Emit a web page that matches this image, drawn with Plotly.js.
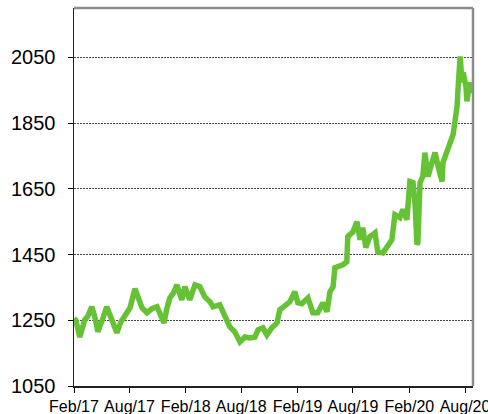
<!DOCTYPE html>
<html>
<head>
<meta charset="utf-8">
<script src="https://cdn.plot.ly/plotly-3.0.1.min.js"></script>
<style>
    body { margin: 0; padding: 0; background: #ffffff; }
    #graph { width: 488px; height: 414px; }
</style>
</head>
<body>
<div id="graph"></div>
<script>
// gold price
let dates = [
    "2017-02-01", "2017-02-07", "2017-02-20", "2017-03-08", "2017-03-18", "2017-03-31",
    "2017-04-10", "2017-04-20", "2017-05-06", "2017-05-19", "2017-06-05", "2017-06-21",
    "2017-07-04", "2017-07-17", "2017-08-03", "2017-08-19", "2017-08-29", "2017-09-11",
    "2017-09-27", "2017-10-13", "2017-10-30", "2017-11-09", "2017-11-22", "2017-12-01",
    "2017-12-11", "2017-12-24", "2018-01-03", "2018-01-19", "2018-01-29", "2018-02-14",
    "2018-02-24", "2018-03-03", "2018-03-19", "2018-04-04", "2018-04-21", "2018-05-01",
    "2018-05-23", "2018-06-09", "2018-06-25", "2018-07-11", "2018-07-28", "2018-08-13",
    "2018-08-29", "2018-09-15", "2018-09-25", "2018-10-11", "2018-10-24", "2018-11-09",
    "2018-11-26", "2018-12-05", "2018-12-22", "2019-01-07", "2019-01-23", "2019-02-02",
    "2019-02-15", "2019-02-25", "2019-03-07", "2019-03-23", "2019-04-08", "2019-04-25",
    "2019-05-08", "2019-05-18", "2019-05-28", "2019-06-03", "2019-06-13", "2019-06-29",
    "2019-07-12", "2019-07-15", "2019-08-01", "2019-08-14", "2019-08-24", "2019-09-02",
    "2019-09-12", "2019-09-25", "2019-10-12", "2019-10-21", "2019-11-07", "2019-11-23",
    "2019-12-06", "2019-12-16", "2020-01-01", "2020-01-11", "2020-01-24", "2020-02-03",
    "2020-02-13", "2020-02-20", "2020-02-26", "2020-02-29", "2020-03-07", "2020-03-16",
    "2020-03-23", "2020-04-02", "2020-04-15", "2020-04-25", "2020-05-05", "2020-05-18",
    "2020-05-21", "2020-06-03", "2020-06-13", "2020-06-23", "2020-06-30", "2020-07-06",
    "2020-07-09", "2020-07-16", "2020-07-22", "2020-07-26", "2020-08-04", "2020-08-07",
    "2020-08-17", "2020-08-21", "2020-08-26"
];
let prices = [
    1255, 1250, 1199, 1251, 1262, 1291,
    1260, 1215, 1255, 1291, 1250, 1212,
    1245, 1266, 1288, 1346, 1315, 1288,
    1273, 1285, 1291, 1270, 1242, 1285,
    1318, 1335, 1358, 1312, 1352, 1312,
    1345, 1358, 1352, 1321, 1306, 1291,
    1297, 1257, 1230, 1215, 1184, 1199,
    1196, 1199, 1221, 1227, 1205, 1227,
    1242, 1282, 1297, 1306, 1337, 1303,
    1300, 1312, 1318, 1273, 1273, 1303,
    1276, 1337, 1352, 1410, 1413, 1419,
    1428, 1504, 1519, 1550, 1495, 1532,
    1471, 1504, 1516, 1458, 1455, 1474,
    1495, 1571, 1562, 1587, 1556, 1672,
    1669, 1600, 1480, 1486, 1669, 1687,
    1760, 1687, 1730, 1760, 1718, 1672,
    1730, 1763, 1800, 1815, 1861, 1901,
    1953, 2053, 1974, 2004, 1962, 1916,
    1974, 1943, 1959
];

let tick_dates = ["2017-02-01", "2017-08-01", "2018-02-01", "2018-08-01",
                  "2019-02-01", "2019-08-01", "2020-02-01", "2020-08-01"];
let tick_labels = ["Feb/17", "Aug/17", "Feb/18", "Aug/18",
                   "Feb/19", "Aug/19", "Feb/20", "Aug/20"];

let chart_title = "図1 金価格の推移";

function draw() {
    let graph = document.getElementById("graph");
    Plotly.newPlot(
        graph,
        [
            {
                x: dates,
                y: prices,
                type: "scatter",
                mode: "lines",
                line: { color: "#66c235", width: 5.5 },
                hoverinfo: "skip",
            },
        ],
        {
            width: 488,
            height: 414,
            margin: { l: 74, r: 15, t: 8, b: 28 },
            paper_bgcolor: "#ffffff",
            plot_bgcolor: "#ffffff",
            showlegend: false,
            font: { family: "Liberation Sans", color: "#000000" },
            xaxis: {
                type: "date",
                range: ["2017-02-01", "2020-08-27"],
                tickvals: tick_dates,
                ticktext: tick_labels,
                ticks: "outside",
                ticklen: 5,
                tickcolor: "#000000",
                tickfont: { size: 16 },
                ticklabeloverflow: "allow",
                showgrid: false,
                showline: true,
                linecolor: "#222222",
                linewidth: 1.5,
                zeroline: false,
            },
            yaxis: {
                range: [1050, 2200],
                tick0: 1050,
                dtick: 200,
                ticks: "outside",
                ticklen: 5,
                tickcolor: "#000000",
                tickfont: { size: 20 },
                ticklabelstandoff: 8,
                showgrid: true,
                gridcolor: "#444444",
                gridwidth: 1,
                griddash: "2px,1px",
                showline: true,
                linecolor: "#222222",
                linewidth: 1.5,
                zeroline: false,
            },
            shapes: [
                // grey frame on top and right
                { type: "line", xref: "paper", yref: "paper", x0: 0, x1: 1, y0: 1, y1: 1,
                  line: { color: "#8c8c8c", width: 2.5 } },
                { type: "line", xref: "paper", yref: "paper", x0: 1, x1: 1, y0: 0, y1: 1,
                  line: { color: "#8c8c8c", width: 2.5 } },
            ],
            annotations: [
                {
                    // title sits mostly above the visible area, as in the source image
                    text: chart_title,
                    xref: "paper",
                    yref: "paper",
                    x: 0.5,
                    y: 1.008,
                    xanchor: "center",
                    yanchor: "bottom",
                    showarrow: false,
                    font: { size: 20, color: "#0a5ad2", family: "Noto Sans CJK JP" },
                },
            ],
        },
        { displayModeBar: false, staticPlot: true }
    );
}

draw();
</script>
</body>
</html>
